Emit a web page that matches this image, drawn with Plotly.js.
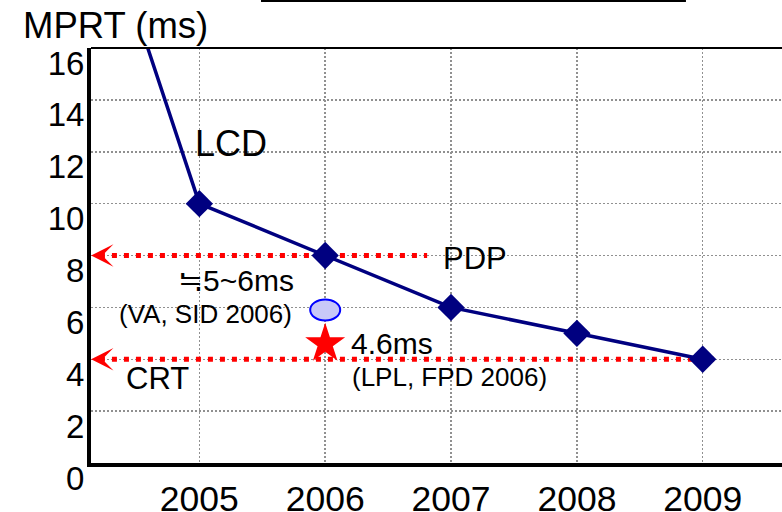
<!DOCTYPE html>
<html>
<head>
<meta charset="utf-8">
<script src="https://cdn.plot.ly/plotly-3.0.1.min.js"></script>
<style>html,body{margin:0;padding:0;background:#fff;}#chart{width:782px;height:512px;}</style>
</head>
<body>
<div id="chart"></div>
<script>
// ---- data ----
const lcdYears = [2004.59, 2005, 2006, 2007, 2008, 2009];
const lcdMPRT = [16, 10, 8, 6, 5, 4];
const lcdMarkerShown = [0, 1, 1, 1, 1, 1];

const pdpLevel = 8;       // PDP reference line (ms)
const pdpSpan = [2004.21, 2006.81];
const crtLevel = 4;       // CRT reference line (ms)
const crtSpan = [2004.21, 2009.09];

const vaYear = 2006;      // VA, SID 2006 (ellipse)
const vaMPRT = 5.9;
const lplYear = 2006;     // LPL, FPD 2006 (star)
const lplMPRT = 4.6;

const xTickVals = [2005, 2006, 2007, 2008, 2009];
const xTickText = ['2005', '2006', '2007', '2008', '2009'];
const yTickVals = [0, 2, 4, 6, 8, 10, 12, 14, 16];
const yTickText = ['0', '2', '4', '6', '8', '10', '12', '14', '16'];

const labels = [
  {text: 'LCD', x: 2005.25, y: 12.3, size: 36},
  {text: 'PDP', x: 2007.19, y: 7.88, size: 31},
  {text: '\u22525~6ms', x: 2005.29, y: 7.03, size: 30},
  {text: '(VA, SID 2006)', x: 2005.05, y: 5.76, size: 26},
  {text: '4.6ms', x: 2006.53, y: 4.61, size: 30},
  {text: '(LPL, FPD 2006)', x: 2006.99, y: 3.3, size: 26},
  {text: 'CRT', x: 2004.67, y: 3.26, size: 31}
];

// ---- traces ----
const FONT = 'Liberation Sans, Arial, Helvetica, sans-serif';
const traces = [
  {
    x: pdpSpan, y: pdpSpan.map(() => pdpLevel), mode: 'lines', type: 'scatter',
    line: {color: '#ff0000', width: 5, dash: '5px,7px'}, hoverinfo: 'skip'
  },
  {
    x: crtSpan, y: crtSpan.map(() => crtLevel), mode: 'lines', type: 'scatter',
    line: {color: '#ff0000', width: 5, dash: '5px,7px'}, hoverinfo: 'skip'
  },
  {
    x: lcdYears, y: lcdMPRT, mode: 'lines+markers', type: 'scatter',
    line: {color: '#000080', width: 3.5},
    marker: {symbol: 'diamond', color: '#000080', opacity: 1, line: {width: 0},
             size: lcdMarkerShown.map(s => s * 21)},
    cliponaxis: true
  },
  {
    x: [lplYear], y: [lplMPRT], mode: 'markers', type: 'scatter',
    marker: {symbol: 'star', color: '#ff0000', size: 30, opacity: 1, line: {width: 0}}
  }
];

const annotations = labels.map(l => ({
  text: l.text, x: l.x, y: l.y, xref: 'x', yref: 'y', showarrow: false,
  xanchor: 'center', yanchor: 'middle', font: {family: FONT, size: l.size, color: '#000'}
}));
annotations.push({
  text: 'MPRT (ms)', xref: 'paper', yref: 'paper', x: -0.1013, y: 1.0554,
  xanchor: 'left', yanchor: 'middle', showarrow: false,
  font: {family: FONT, size: 36.5, color: '#000'}
});
// arrowheads at the left end of the reference lines
[[pdpSpan, pdpLevel], [crtSpan, crtLevel]].forEach(([span, lvl]) => {
  annotations.push({
    text: '', x: span[0] - 0.07, y: lvl, xref: 'x', yref: 'y',
    ax: 14, ay: 0, showarrow: true, arrowhead: 3, arrowsize: 3.1, arrowwidth: 1.2,
    arrowcolor: '#ff0000', standoff: 0
  });
});

const shapes = [
  // VA ellipse
  {type: 'circle', xref: 'x', yref: 'y', xsizemode: 'pixel', ysizemode: 'pixel',
   xanchor: vaYear, yanchor: vaMPRT, x0: -15, x1: 15, y0: -10.5, y1: 10.5,
   fillcolor: '#c8c8f8', line: {color: '#0000ff', width: 2}},
  // top frame line
  {type: 'line', xref: 'paper', yref: 'paper', x0: 0, x1: 1, y0: 1, y1: 1,
   line: {color: '#000', width: 2}},
  // remnant of cut-off title underline
  {type: 'line', xref: 'paper', yref: 'paper', x0: 0.246, x1: 0.861, y0: 1.1133, y1: 1.1133,
   line: {color: '#000', width: 2}}
];

const layout = {
  width: 782, height: 512,
  margin: {l: 91, r: 0, t: 48, b: 49, pad: 0},
  paper_bgcolor: '#fff', plot_bgcolor: '#fff',
  showlegend: false,
  font: {family: FONT, color: '#000'},
  xaxis: {
    range: [2004.139, 2009.63], tickvals: xTickVals, ticktext: xTickText,
    showgrid: true, gridcolor: '#909090', gridwidth: 1.5, griddash: '2px,2px',
    zeroline: false, showline: true, linecolor: '#000', linewidth: 4,
    ticks: '', ticklen: 0, ticklabelstandoff: 1, tickfont: {family: FONT, size: 35.5, color: '#000'}
  },
  yaxis: {
    range: [0, 16], tickvals: yTickVals, ticktext: yTickText,
    showgrid: true, gridcolor: '#909090', gridwidth: 1.5, griddash: '2px,2px',
    zeroline: false, showline: true, linecolor: '#000', linewidth: 4,
    ticks: '', ticklen: 0, ticklabelshift: 15, ticklabelstandoff: -4,
    tickfont: {family: FONT, size: 33, color: '#000'}
  },
  annotations: annotations,
  shapes: shapes
};

Plotly.newPlot('chart', traces, layout, {displayModeBar: false, staticPlot: true});
</script>
</body>
</html>
